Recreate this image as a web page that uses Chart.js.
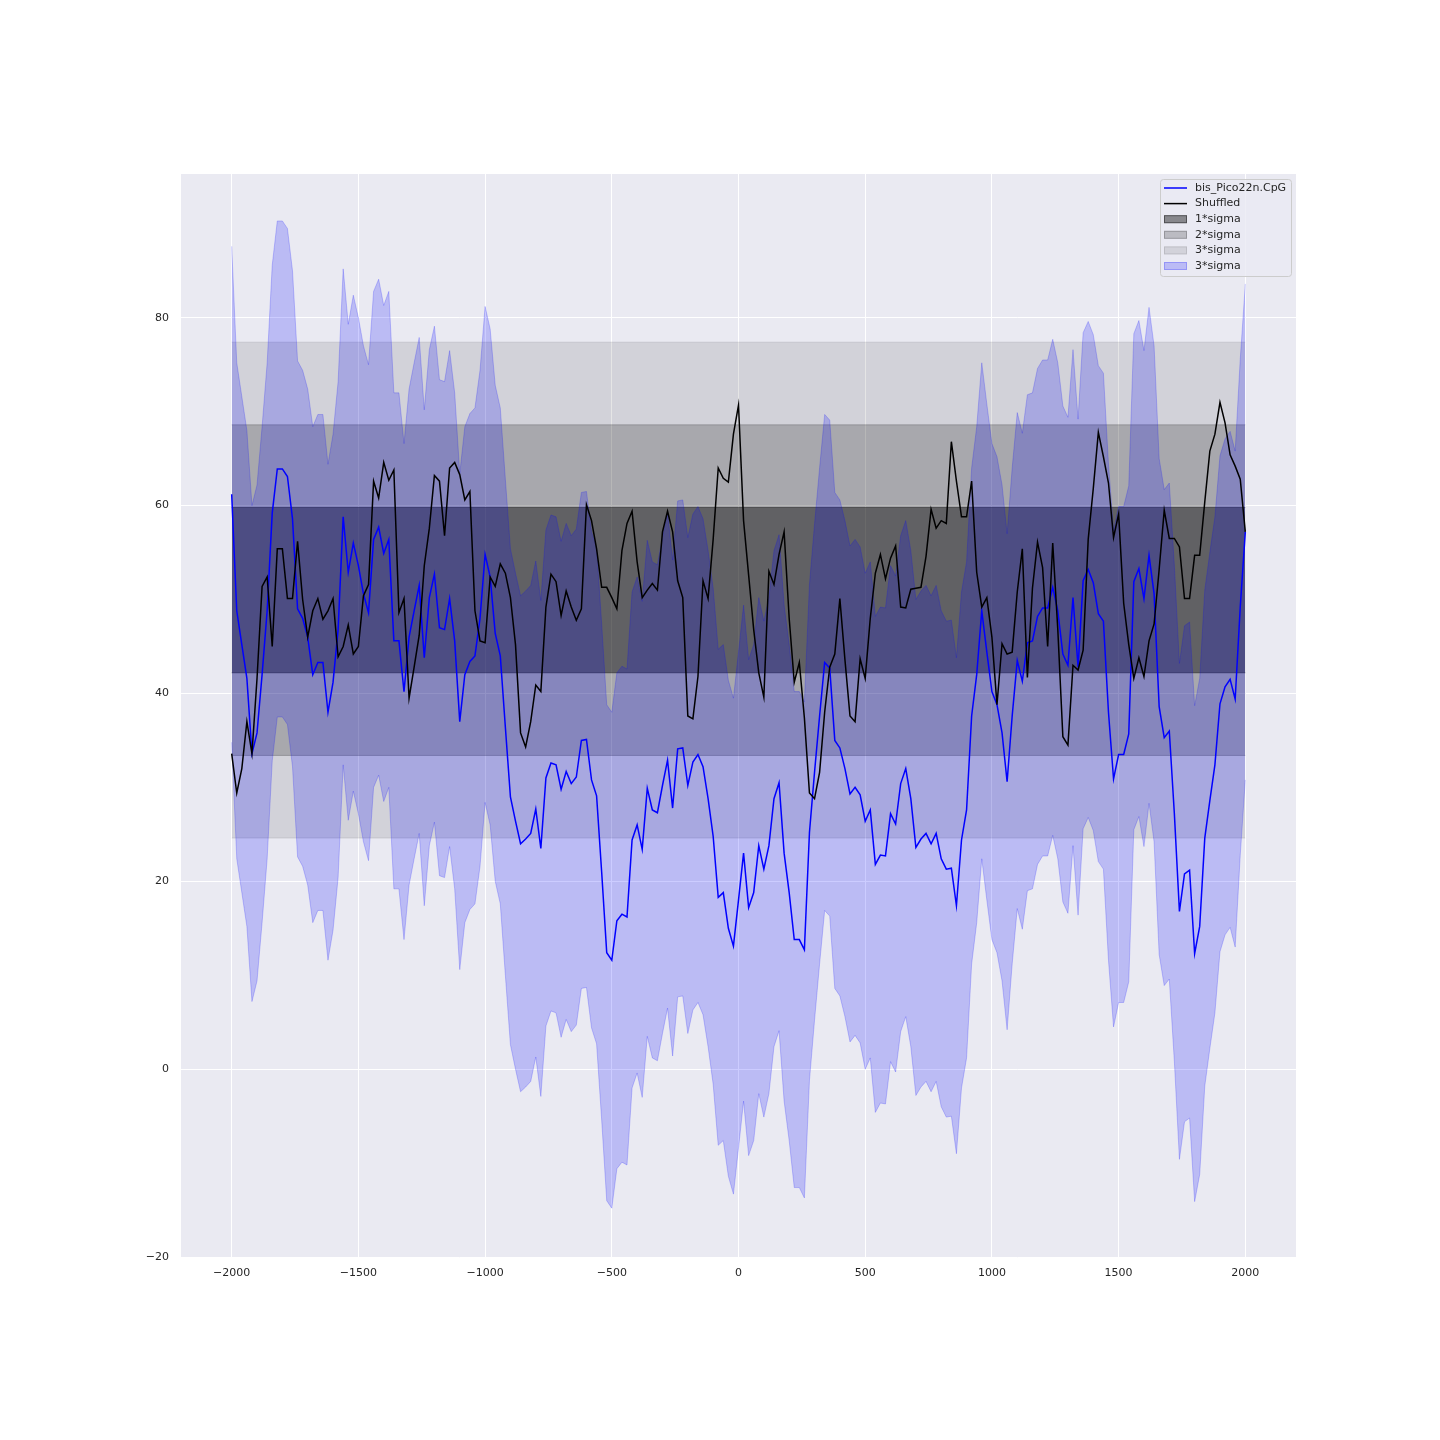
<!DOCTYPE html>
<html>
<head>
<meta charset="utf-8">
<title>bis_Pico22n.CpG vs shuffled</title>
<script src="https://cdn.jsdelivr.net/npm/chart.js@4.4.1/dist/chart.umd.min.js"></script>
<style>
  html, body { margin: 0; padding: 0; background: #ffffff; }
  #wrap { width: 1440px; height: 1440px; }
</style>
</head>
<body>
<div id="wrap"><canvas id="chart" width="1440" height="1440"></canvas></div>
<script>
// ---------- DATA ----------
const X_START = -2000;
const X_STEP = 20;

// bis_Pico22n.CpG (blue line), one value every 20 from -2000 to 2000
const bisValues = [
  61.2, 48.8, 45.2, 41.6, 33.6, 35.8, 42.0, 48.8, 59.2, 63.9,
  63.9, 63.1, 58.6, 49.0, 48.0, 46.0, 42.0, 43.3, 43.3, 38.0,
  41.2, 46.8, 58.8, 52.9, 56.0, 53.6, 50.6, 48.6, 56.4, 57.7,
  54.9, 56.4, 45.6, 45.6, 40.2, 46.0, 48.8, 51.5, 43.8, 50.2,
  52.7, 47.0, 46.8, 50.1, 45.6, 37.0, 42.0, 43.4, 44.0, 48.0,
  54.8, 52.4, 46.4, 44.0, 36.4, 29.0, 26.4, 24.0, 24.5, 25.1,
  27.7, 23.5, 31.0, 32.6, 32.4, 29.8, 31.7, 30.4, 31.1, 35.0,
  35.1, 30.8, 29.1, 21.0, 12.4, 11.6, 15.8, 16.5, 16.2, 24.4,
  26.0, 23.4, 29.9, 27.6, 27.3, 30.2, 32.9, 27.8, 34.1, 34.2,
  30.2, 32.7, 33.5, 32.2, 28.8, 24.8, 18.3, 18.8, 15.0, 13.1,
  18.0, 23.0, 17.2, 18.8, 23.8, 21.3, 23.8, 28.8, 30.5, 23.0,
  18.8, 13.8, 13.8, 12.7, 25.2, 31.6, 37.6, 43.3, 42.7, 35.0,
  34.2, 32.0, 29.3, 30.0, 29.2, 26.4, 27.6, 21.8, 22.8, 22.7,
  27.2, 26.1, 30.4, 32.0, 28.8, 23.6, 24.5, 25.1, 24.0, 25.1,
  22.4, 21.3, 21.4, 17.4, 24.4, 27.6, 37.6, 42.0, 48.8, 44.4,
  40.2, 38.8, 35.8, 30.6, 37.6, 43.5, 41.3, 45.4, 45.6, 48.2,
  49.1, 49.1, 51.3, 48.8, 44.2, 43.0, 50.2, 42.8, 52.0, 53.2,
  51.8, 48.5, 47.7, 38.0, 30.9, 33.5, 33.5, 35.7, 51.9, 53.3,
  50.1, 54.7, 50.6, 38.6, 35.3, 36.0, 27.2, 16.8, 20.8, 21.2,
  12.3, 15.2, 24.6, 28.6, 32.4, 38.9, 40.7, 41.5, 39.4, 49.2,
  57.2
];

// Shuffled (black line)
const shuffledValues = [
  33.6, 29.4, 32.0, 37.0, 33.6, 41.6, 51.4, 52.4, 45.0, 55.4,
  55.4, 50.1, 50.1, 56.2, 50.0, 46.0, 48.8, 50.1, 47.9, 48.8,
  50.1, 43.9, 45.0, 47.3, 44.2, 45.0, 50.4, 51.6, 62.6, 60.8,
  64.6, 62.7, 63.8, 48.6, 50.1, 39.5, 42.8, 46.2, 53.6, 57.6,
  63.2, 62.6, 56.8, 64.0, 64.6, 63.3, 60.6, 61.5, 48.8, 45.6,
  45.4, 52.4, 51.4, 53.8, 52.8, 50.2, 45.2, 35.8, 34.3, 37.0,
  40.9, 40.2, 49.2, 52.7, 51.9, 48.3, 50.9, 49.2, 47.8, 49.0,
  60.1, 58.4, 55.4, 51.3, 51.3, 50.2, 49.0, 55.2, 58.1, 59.4,
  54.0, 50.2, 51.0, 51.7, 51.0, 57.2, 59.4, 57.2, 52.0, 50.2,
  37.6, 37.3, 41.8, 52.0, 50.1, 56.4, 64.0, 62.9, 62.5, 67.6,
  70.7, 58.4, 52.6, 46.8, 42.2, 39.6, 53.0, 51.6, 54.8, 57.2,
  48.0, 41.2, 43.3, 37.4, 29.4, 28.8, 31.6, 38.0, 42.8, 44.2,
  50.1, 43.6, 37.6, 37.0, 43.7, 41.6, 48.0, 52.8, 54.8, 52.2,
  54.4, 55.7, 49.2, 49.1, 51.1, 51.2, 51.3, 54.6, 59.6, 57.6,
  58.4, 58.1, 66.8, 62.6, 58.8, 58.8, 62.6, 52.9, 49.2, 50.2,
  46.0, 38.8, 45.3, 44.2, 44.4, 50.8, 55.4, 41.7, 51.2, 56.1,
  53.4, 45.0, 56.0, 46.8, 35.4, 34.5, 43.0, 42.5, 44.6, 56.4,
  61.8, 67.8, 65.2, 62.4, 56.6, 59.1, 49.6, 45.2, 41.6, 43.8,
  41.8, 45.6, 47.4, 53.2, 59.5, 56.5, 56.5, 55.6, 50.1, 50.1,
  54.7, 54.7, 60.4, 65.8, 67.6, 71.0, 68.8, 65.4, 64.2, 62.8,
  57.2
];

// shuffled mean and sigma (grey bands), blue band = line +/- 3 sigma
const SHUF_MEAN = 51.0;
const SHUF_SIGMA = 8.8;
const SIGMA_LEVELS = [1, 2, 3];

const X_TICKS = [-2000, -1500, -1000, -500, 0, 500, 1000, 1500, 2000];
const Y_TICKS = [-20, 0, 20, 40, 60, 80];
const LEGEND_LABELS = ["bis_Pico22n.CpG", "Shuffled", "1*sigma", "2*sigma", "3*sigma", "3*sigma"];

// ---------- BUILD ----------
const xs = bisValues.map((_, i) => X_START + i * X_STEP);
const X_END = xs[xs.length - 1];

const toPts = (vals) => vals.map((v, i) => ({ x: xs[i], y: v }));
const flat = (v) => [{ x: X_START, y: v }, { x: X_END, y: v }];

const GREY_ALPHA = { 1: 0.42, 2: 0.2, 3: 0.1 };
const BLUE_BAND = "rgba(0,0,255,0.2)";
const LINE_W = 1.5;

const datasets = [
  {
    label: "Shuffled",
    data: toPts(shuffledValues),
    borderColor: "#000000",
    borderWidth: LINE_W,
    pointRadius: 0,
    fill: false,
  },
  {
    label: "bis_Pico22n.CpG",
    data: toPts(bisValues),
    borderColor: "#0000ff",
    borderWidth: LINE_W,
    pointRadius: 0,
    fill: false,
  },
  {
    label: "band upper",
    data: toPts(bisValues.map((v) => v + 3 * SHUF_SIGMA)),
    borderColor: BLUE_BAND,
    backgroundColor: BLUE_BAND,
    borderWidth: 1,
    pointRadius: 0,
    fill: "+1",
  },
  {
    label: "band lower",
    data: toPts(bisValues.map((v) => v - 3 * SHUF_SIGMA)),
    borderColor: BLUE_BAND,
    borderWidth: 1,
    pointRadius: 0,
    fill: false,
  },
];

SIGMA_LEVELS.forEach((k) => {
  const col = `rgba(0,0,0,${GREY_ALPHA[k]})`;
  datasets.push({
    label: k + " sigma upper",
    data: flat(SHUF_MEAN + k * SHUF_SIGMA),
    borderColor: col,
    backgroundColor: col,
    borderWidth: 1,
    pointRadius: 0,
    fill: "+1",
  });
  datasets.push({
    label: k + " sigma lower",
    data: flat(SHUF_MEAN - k * SHUF_SIGMA),
    borderColor: col,
    borderWidth: 1,
    pointRadius: 0,
    fill: false,
  });
});

// ---------- PLUGINS ----------
const plotBackground = {
  id: "plotBackground",
  beforeDraw(chart) {
    const { ctx, chartArea: a } = chart;
    ctx.save();
    ctx.fillStyle = "#eaeaf2";
    ctx.fillRect(a.left, a.top, a.right - a.left, a.bottom - a.top);
    ctx.restore();
  },
};

// legend drawn inside the plot, top right
const legendBox = {
  id: "legendBox",
  afterDraw(chart) {
    const ctx = chart.ctx;
    const x0 = 1160.5, y0 = 179.5, w = 131, h = 97, r = 3;
    ctx.save();
    ctx.beginPath();
    ctx.moveTo(x0 + r, y0);
    ctx.arcTo(x0 + w, y0, x0 + w, y0 + h, r);
    ctx.arcTo(x0 + w, y0 + h, x0, y0 + h, r);
    ctx.arcTo(x0, y0 + h, x0, y0, r);
    ctx.arcTo(x0, y0, x0 + w, y0, r);
    ctx.closePath();
    ctx.fillStyle = "rgba(234,234,242,0.8)";
    ctx.fill();
    ctx.strokeStyle = "#cccccc";
    ctx.lineWidth = 1;
    ctx.stroke();

    const swatches = [
      { kind: "line", color: "#0000ff" },
      { kind: "line", color: "#000000" },
      { kind: "box", color: `rgba(0,0,0,${GREY_ALPHA[1]})` },
      { kind: "box", color: `rgba(0,0,0,${GREY_ALPHA[2]})` },
      { kind: "box", color: `rgba(0,0,0,${GREY_ALPHA[3]})` },
      { kind: "box", color: BLUE_BAND },
    ];

    ctx.font = "11px 'DejaVu Sans'";
    ctx.textBaseline = "middle";
    LEGEND_LABELS.forEach((label, i) => {
      const cy = 188 + i * 15.6;
      const s = swatches[i];
      if (s.kind === "line") {
        ctx.strokeStyle = s.color;
        ctx.lineWidth = LINE_W;
        ctx.beginPath();
        ctx.moveTo(1164, cy);
        ctx.lineTo(1187, cy);
        ctx.stroke();
      } else {
        ctx.fillStyle = s.color;
        ctx.fillRect(1164, cy - 4, 23, 8);
        ctx.strokeStyle = s.color;
        ctx.lineWidth = 1;
        ctx.strokeRect(1164.5, cy - 3.5, 22, 7);
      }
      ctx.fillStyle = "#262626";
      ctx.fillText(label, 1195, cy);
    });
    ctx.restore();
  },
};

const minusLabel = (v) => String(v).replace("-", "\u2212");

// ---------- CHART ----------
new Chart(document.getElementById("chart"), {
  type: "line",
  data: { datasets },
  options: {
    responsive: false,
    animation: false,
    devicePixelRatio: 1,
    layout: { padding: { top: 174, right: 144, left: 0, bottom: 0 } },
    elements: { line: { tension: 0 } },
    plugins: {
      legend: { display: false },
      tooltip: { enabled: false },
      filler: { propagate: false },
    },
    scales: {
      x: {
        type: "linear",
        min: -2200,
        max: 2200,
        afterBuildTicks: (scale) => { scale.ticks = X_TICKS.map((v) => ({ value: v })); },
        afterFit: (scale) => { scale.height = 182; },
        grid: { color: "#ffffff", lineWidth: 1, drawTicks: false },
        border: { display: false },
        ticks: {
          color: "#262626",
          font: { family: "DejaVu Sans", size: 11 },
          padding: 9,
          maxRotation: 0,
          callback: minusLabel,
        },
      },
      y: {
        type: "linear",
        min: -20.1,
        max: 95.3,
        afterBuildTicks: (scale) => { scale.ticks = Y_TICKS.map((v) => ({ value: v })); },
        afterFit: (scale) => { scale.width = 181; },
        grid: { color: "#ffffff", lineWidth: 1, drawTicks: false },
        border: { display: false },
        ticks: {
          color: "#262626",
          font: { family: "DejaVu Sans", size: 11 },
          padding: 12,
          callback: minusLabel,
        },
      },
    },
  },
  plugins: [plotBackground, legendBox],
});
</script>
</body>
</html>
